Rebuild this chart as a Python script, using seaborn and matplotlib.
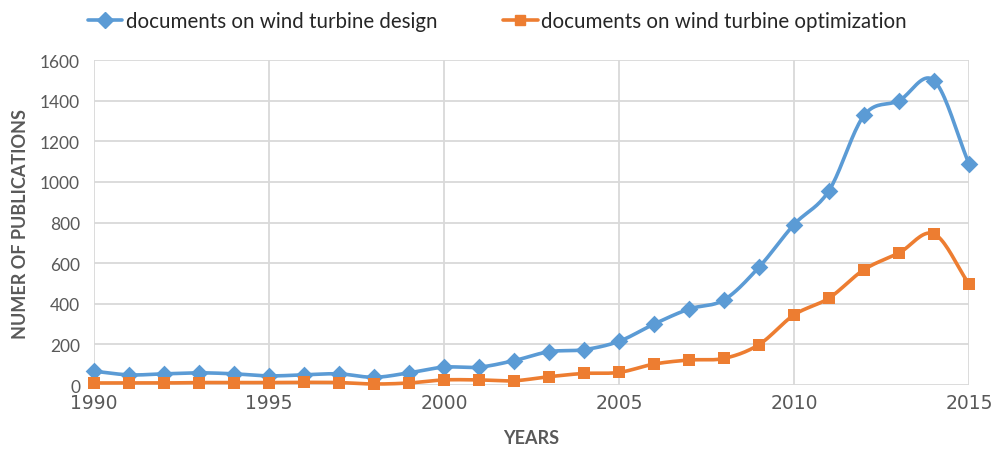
import numpy as np
import pandas as pd
import matplotlib
matplotlib.use("Agg")
import matplotlib.pyplot as plt
import seaborn as sns
from matplotlib.lines import Line2D

years = list(range(1990, 2016))
design = [68, 50, 55, 60, 55, 45, 50, 55, 38, 60, 88, 88, 120, 164, 174, 215,
          300, 374, 419, 580, 790, 957, 1327, 1400, 1499, 1089]
optimization = [10, 10, 10, 12, 12, 12, 13, 12, 5, 10, 25, 25, 21, 41, 57, 62,
                103, 123, 131, 199, 345, 428, 568, 650, 744, 497]
series_names = ["documents on wind turbine design",
                "documents on wind turbine optimization"]
colors = ["#5B9BD5", "#ED7D31"]
markers = ["D", "s"]
yticks = [0, 200, 400, 600, 800, 1000, 1200, 1400, 1600]
xticks = [1990, 1995, 2000, 2005, 2010, 2015]


def catmull_rom(x, y, n=20):
    x = np.asarray(x, float)
    y = np.asarray(y, float)
    px = np.concatenate([[2 * x[0] - x[1]], x, [2 * x[-1] - x[-2]]])
    py = np.concatenate([[2 * y[0] - y[1]], y, [2 * y[-1] - y[-2]]])
    xs, ys = [], []
    t = np.linspace(0, 1, n, endpoint=False)
    for i in range(1, len(px) - 2):
        for arr, out in ((px, xs), (py, ys)):
            p0, p1, p2, p3 = arr[i - 1], arr[i], arr[i + 1], arr[i + 2]
            out.extend(0.5 * ((2 * p1) + (-p0 + p2) * t
                              + (2 * p0 - 5 * p1 + 4 * p2 - p3) * t ** 2
                              + (-p0 + 3 * p1 - 3 * p2 + p3) * t ** 3))
    xs.append(x[-1]); ys.append(y[-1])
    return np.array(xs), np.array(ys)


sns.set_theme(style="white")
plt.rcParams["font.family"] = ["Lato", "DejaVu Sans"]

fig = plt.figure(figsize=(10, 4.52), dpi=100)
ax = fig.add_axes([0.094, 0.146, 0.875, 0.719])

handles = []
for vals, name, c, m, ms in zip([design, optimization], series_names, colors, markers, [9, 8.5]):
    sx, sy = catmull_rom(years, vals)
    smooth = pd.DataFrame({"year": sx, "value": sy})
    sns.lineplot(data=smooth, x="year", y="value", color=c, linewidth=2.6,
                 ax=ax, zorder=3, estimator=None, sort=False, clip_on=False)
    pts = pd.DataFrame({"year": years, "value": vals})
    sns.scatterplot(data=pts, x="year", y="value", color=c, marker=m, s=ms ** 2,
                    edgecolor=c, linewidth=0, ax=ax, zorder=4, clip_on=False)
    handles.append(Line2D([], [], color=c, linewidth=2.6, marker=m, markersize=ms - 1,
                          label=name))

ax.set_xlim(1990, 2015)
ax.set_ylim(0, 1600)
ax.set_xticks(xticks)
ax.set_yticks(yticks)
ax.grid(True, color="#d9d9d9", linewidth=1.3)
ax.set_axisbelow(True)
for s in ax.spines.values():
    s.set_visible(False)
ax.tick_params(axis="y", labelsize=12.5, labelcolor="#595959", length=0, pad=10)
ax.tick_params(axis="x", labelsize=13.5, labelcolor="#595959", length=0, pad=6)
for lab in ax.get_xticklabels():
    lab.set_fontfamily(["DejaVu Sans"])

ax.set_xlabel("YEARS", fontsize=13, fontweight="bold", color="#595959", labelpad=12)
ax.set_ylabel("NUMER OF PUBLICATIONS", fontsize=13, fontweight="bold", color="#595959", labelpad=8)

fig.legend(handles=handles, loc="upper center", bbox_to_anchor=(0.497, 1.015), ncol=2,
           frameon=False, fontsize=14.8, handlelength=1.7, handletextpad=0.15,
           columnspacing=3.2, labelcolor="#262626")

fig.savefig("out.png", dpi=100)
